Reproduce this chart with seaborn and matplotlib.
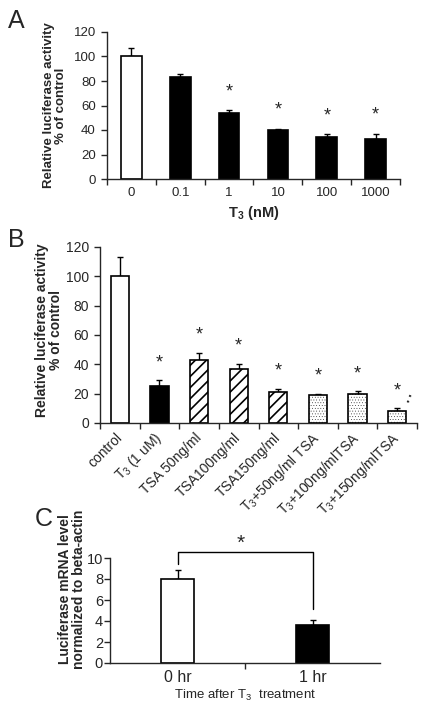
import matplotlib
matplotlib.use("Agg")
import matplotlib.pyplot as plt
import seaborn as sns
import numpy as np
import pandas as pd

# ===== Data =====
# Panel A
a_doses = ["0", "0.1", "1", "10", "100", "1000"]
a_values = [100, 83, 54, 40, 34.5, 33]
a_errors = [7, 2.5, 2.5, 1, 2, 4]
a_star = [False, False, True, True, True, True]

# Panel B
b_groups = ["control", "T$_3$ (1 uM)", "TSA 50ng/ml", "TSA100ng/ml", "TSA150ng/ml",
            "T$_3$+50ng/ml TSA", "T$_3$+100ng/mlTSA", "T$_3$+150ng/mlTSA"]
b_values = [100, 25, 43, 37, 21, 19, 20, 8.5]
b_errors = [13, 4, 5, 3.5, 2.5, 1, 1.5, 1.5]
b_star = [False, True, True, True, True, True, True, True]
b_fill = ["white", "black", "white", "white", "white", "white", "white", "white"]
b_hatch = ["", "", "///", "///", "///", "......", "......", "......"]

# Panel C
c_times = ["0 hr", "1 hr"]
c_values = [8.0, 3.6]
c_errors = [0.9, 0.45]

sns.set_style("ticks")
plt.rcParams["font.family"] = ["Liberation Sans", "DejaVu Sans"]
plt.rcParams["mathtext.fontset"] = "custom"
plt.rcParams["mathtext.rm"] = "Liberation Sans"
plt.rcParams["mathtext.bf"] = "Liberation Sans:bold"
plt.rcParams["hatch.linewidth"] = 1.2
plt.rcParams["axes.linewidth"] = 1.0

W, H = 422, 709
fig = plt.figure(figsize=(W / 100, H / 100), dpi=100)


def px_axes(left, top, right, bottom):
    return fig.add_axes([left / W, 1 - bottom / H, (right - left) / W, (bottom - top) / H])


def style_axes(ax, n, boundaries=True):
    sns.despine(ax=ax)
    ax.set_xlim(-0.5, n - 0.5)
    ax.tick_params(axis="x", which="major", length=0)
    ax.tick_params(axis="y", which="major", length=4, width=1, direction="out", pad=4)
    if boundaries:
        ax.set_xticks(np.arange(-0.5, n, 1.0), minor=True)
    ax.tick_params(axis="x", which="minor", length=4, width=1, direction="out")


def up_errors(ax, values, errors):
    x = np.arange(len(values))
    ax.errorbar(x, values, yerr=[np.zeros(len(errors)), errors], fmt="none",
                ecolor="black", elinewidth=1, capsize=2.5, capthick=1, zorder=1)


# ===== A =====
axA = px_axes(107, 32, 400, 179)
dfA = pd.DataFrame({"dose": a_doses, "val": a_values})
a_cols = ["white"] + ["black"] * (len(a_doses) - 1)
sns.barplot(data=dfA, x="dose", y="val", hue="dose", palette=dict(zip(a_doses, a_cols)),
            legend=False, edgecolor="black", linewidth=1.2, width=0.42, ax=axA, zorder=2)
up_errors(axA, a_values, a_errors)
style_axes(axA, len(a_doses))
axA.set_ylim(0, 120)
axA.set_yticks(range(0, 121, 20))
axA.tick_params(labelsize=9.5)
axA.tick_params(axis="x", which="major", pad=6)
for i, s in enumerate(a_star):
    if s:
        axA.text(i, a_values[i] + a_errors[i] + 8, "*", ha="center", va="bottom", fontsize=13)
axA.set_ylabel("Relative luciferase activity\n% of control", fontsize=9.5, fontweight="bold",
               linespacing=1.0)
axA.yaxis.set_label_coords(-0.137, 0.5)
axA.set_xlabel(r"T$_\mathbf{3}$ (nM)", fontsize=10.5, fontweight="bold", labelpad=3)

# ===== B =====
axB = px_axes(100, 247, 417, 423)
dfB = pd.DataFrame({"grp": b_groups, "val": b_values})
sns.barplot(data=dfB, x="grp", y="val", hue="grp", palette=dict(zip(b_groups, b_fill)),
            legend=False, edgecolor="black", linewidth=1.2, width=0.46, ax=axB, zorder=2)
for patch, h in zip(axB.patches, b_hatch):
    if h:
        patch.set_hatch(h)
        if h.startswith(".") and hasattr(patch, "set_hatch_linewidth"):
            patch.set_hatch_linewidth(0.2)
up_errors(axB, b_values, b_errors)
style_axes(axB, len(b_groups))
axB.set_ylim(0, 120)
axB.set_yticks(range(0, 121, 20))
axB.tick_params(axis="y", labelsize=10)
axB.set_xticks(range(len(b_groups)))
axB.set_xticklabels(b_groups, rotation=45, ha="right", va="center", rotation_mode="anchor",
                    fontsize=10)
axB.tick_params(axis="x", which="major", pad=9)
for i, s in enumerate(b_star):
    if s:
        axB.text(i, b_values[i] + b_errors[i] + 6, "*", ha="center", va="bottom", fontsize=13)
axB.text(len(b_groups) - 1 + 0.28, b_values[-1] + b_errors[-1] + 1, ":", ha="center",
         va="bottom", fontsize=10, fontweight="bold", rotation=-20)
axB.set_xlabel("")
axB.set_ylabel("Relative luciferase activity\n% of control", fontsize=10, fontweight="bold",
               linespacing=1.0)
axB.yaxis.set_label_coords(-0.117, 0.53)

# ===== C =====
axC = px_axes(110, 558, 380, 663)
dfC = pd.DataFrame({"time": c_times, "val": c_values})
sns.barplot(data=dfC, x="time", y="val", hue="time",
            palette=dict(zip(c_times, ["white", "black"])), legend=False,
            edgecolor="black", linewidth=1.2, width=0.24, ax=axC, zorder=2)
up_errors(axC, c_values, c_errors)
style_axes(axC, len(c_times), boundaries=False)
axC.set_xticks([0.5], minor=True)
axC.set_ylim(0, 10)
axC.set_yticks(range(0, 11, 2))
axC.tick_params(axis="y", labelsize=10.5, pad=1)
axC.tick_params(axis="x", which="major", labelsize=11.5, pad=5)
# significance bracket
axC.plot([0, 0, 1, 1], [9.4, 10.6, 10.6, 5.1], color="black", lw=1, clip_on=False)
axC.text(0.47, 10.5, "*", ha="center", va="bottom", fontsize=15)
axC.set_ylabel("Luciferase mRNA level\nnormalized to beta-actin", fontsize=10,
               fontweight="bold", linespacing=0.95)
axC.yaxis.set_label_coords(-0.09, 0.7)
axC.set_xlabel("Time after T$_3$  treatment", fontsize=9.5, labelpad=2)

# ===== Panel letters =====
fig.text(8 / W, 1 - 21 / H, "A", fontsize=18, va="center", ha="left")
fig.text(8 / W, 1 - 240 / H, "B", fontsize=18, va="center", ha="left")
fig.text(35 / W, 1 - 519 / H, "C", fontsize=18, va="center", ha="left")

fig.savefig("out.png", dpi=100)
